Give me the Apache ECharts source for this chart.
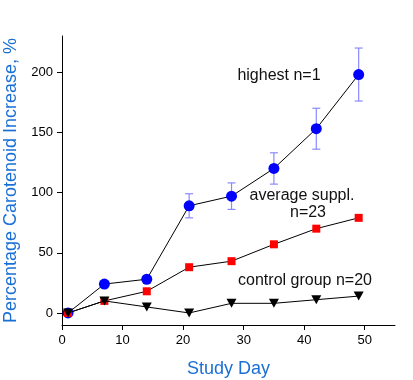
<!DOCTYPE html>
<html><head><meta charset="utf-8">
<script src="https://cdn.jsdelivr.net/npm/echarts@6/dist/echarts.min.js"></script>
<style>html,body{margin:0;padding:0;background:#fff}#c{width:413px;height:380px}</style>
</head><body><div id="c"></div>
<script>
const days = [1, 7, 14, 21, 28, 35, 42, 49];
const highest = [0, 24, 28, 89, 97, 120, 153, 198];
const highestErr = [0, 0, 0, 10, 11, 13, 17, 22];
const average = [0, 10, 18, 38, 43, 57, 70, 79];
const control = [0, 10, 5, 0, 8, 8, 11, 14];
const xTicks = [0, 10, 20, 30, 40, 50];
const yTicks = [0, 50, 100, 150, 200];

const chart = echarts.init(document.getElementById('c'));
const font = 'Arial, "Liberation Sans", sans-serif';
const pair = a => days.map((d, i) => [d, a[i]]);
const errData = days.map((d, i) => [d, highest[i] - highestErr[i], highest[i] + highestErr[i]]);

chart.setOption({
  animation: false,
  grid: { left: 62, right: 18, top: 36, bottom: 55, outerBoundsMode: 'none', containLabel: false },
  xAxis: {
    type: 'value', min: 0, max: 55,
    name: 'Study Day', nameLocation: 'middle', nameGap: 35,
    nameTextStyle: { color: '#1a6fd6', fontSize: 18, fontFamily: font },
    axisLine: { show: true, onZero: false, lineStyle: { color: '#000', width: 1 } },
    axisTick: { show: true, length: 5, customValues: xTicks, lineStyle: { color: '#000' } },
    axisLabel: { customValues: xTicks, color: '#000', fontSize: 13, fontFamily: font, margin: 9 },
    splitLine: { show: false }
  },
  yAxis: {
    type: 'value', min: -10, max: 230,
    name: 'Percentage Carotenoid Increase, %', nameLocation: 'middle', nameGap: 34,
    nameTextStyle: { color: '#1a6fd6', fontSize: 18, fontFamily: font },
    axisLine: { show: true, onZero: false, lineStyle: { color: '#000', width: 1 } },
    axisTick: { show: true, length: 5, customValues: yTicks, lineStyle: { color: '#000' } },
    axisLabel: { customValues: yTicks, color: '#000', fontSize: 13, fontFamily: font, margin: 9 },
    splitLine: { show: false }
  },
  series: [
    {
      type: 'custom', z: 1,
      data: errData,
      renderItem: function (params, api) {
        const x = api.value(0);
        const lo = api.coord([x, api.value(1)]);
        const hi = api.coord([x, api.value(2)]);
        if (Math.abs(hi[1] - lo[1]) < 1) return null;
        const w = 4;
        const st = { stroke: '#8a8aff', lineWidth: 1.2 };
        return { type: 'group', children: [
          { type: 'line', shape: { x1: lo[0], y1: lo[1], x2: hi[0], y2: hi[1] }, style: st },
          { type: 'line', shape: { x1: lo[0] - w, y1: lo[1], x2: lo[0] + w, y2: lo[1] }, style: st },
          { type: 'line', shape: { x1: hi[0] - w, y1: hi[1], x2: hi[0] + w, y2: hi[1] }, style: st }
        ]};
      }
    },
    {
      type: 'line', z: 2, data: pair(highest), symbol: 'circle', symbolSize: 11,
      lineStyle: { color: '#000', width: 1 }, itemStyle: { color: '#0000ff' }
    },
    {
      type: 'line', z: 3, data: pair(average), symbol: 'rect', symbolSize: 8,
      lineStyle: { color: '#000', width: 1 }, itemStyle: { color: '#ff0000' }
    },
    {
      type: 'line', z: 4, data: pair(control), symbol: 'triangle', symbolRotate: 180, symbolSize: [10, 9],
      lineStyle: { color: '#000', width: 1 }, itemStyle: { color: '#000' }
    }
  ],
  graphic: [
    { type: 'text', x: 279, y: 76, style: { text: 'highest n=1', fill: '#111', font: '16px ' + font, align: 'center', verticalAlign: 'middle' } },
    { type: 'text', x: 302, y: 196, style: { text: 'average suppl.', fill: '#111', font: '16px ' + font, align: 'center', verticalAlign: 'middle' } },
    { type: 'text', x: 308, y: 213, style: { text: 'n=23', fill: '#111', font: '16px ' + font, align: 'center', verticalAlign: 'middle' } },
    { type: 'text', x: 305, y: 281, style: { text: 'control group n=20', fill: '#111', font: '16px ' + font, align: 'center', verticalAlign: 'middle' } }
  ]
});
</script></body></html>
